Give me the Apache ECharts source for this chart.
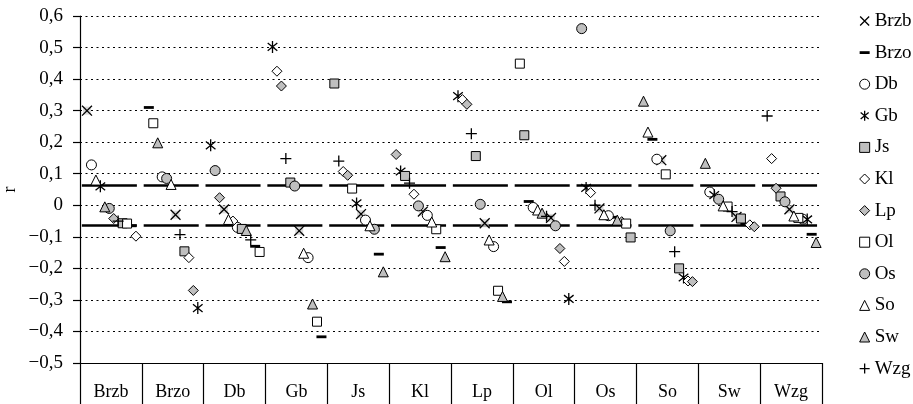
<!DOCTYPE html>
<html><head><meta charset="utf-8">
<script src="https://cdn.jsdelivr.net/npm/echarts@6/dist/echarts.min.js"></script>
<style>html,body{margin:0;padding:0;background:#fff}#c{width:913px;height:404px}</style>
</head><body><div id="c"></div>
<script>
// ---------- data ----------
const categories = ['Brzb','Brzo','Db','Gb','Js','Kl','Lp','Ol','Os','So','Sw','Wzg'];
const seriesNames = ['Brzb','Brzo','Db','Gb','Js','Kl','Lp','Ol','Os','So','Sw','Wzg'];
const yMin = -0.5, yMax = 0.6, yStep = 0.1;
const refLevels = [0.064, -0.064];
// values per series, in category order
const brzb = [0.30, -0.03, -0.013, -0.081, -0.028, -0.02, -0.057, -0.04, -0.01, 0.143, -0.037, -0.013];
const brzo = [-0.065, 0.31, -0.13, -0.417, -0.155, -0.134, -0.306, 0.012, -0.038, 0.209, -0.06, -0.092];
const db   = [0.128, 0.09, -0.07, -0.166, -0.047, -0.032, -0.131, -0.007, -0.033, 0.146, 0.042, -0.044];
const gb   = [0.06, -0.326, 0.19, 0.502, 0.006, 0.107, 0.346, -0.297, 0.055, -0.229, 0.032, -0.045];
const js   = [-0.057, -0.146, -0.075, 0.072, 0.386, 0.093, 0.156, 0.222, -0.102, -0.2, -0.042, 0.028];
const kl   = [-0.098, -0.166, -0.05, 0.425, 0.107, 0.035, 0.335, -0.178, 0.04, -0.24, -0.062, 0.148];
const lp   = [-0.042, -0.27, 0.024, 0.378, 0.095, 0.161, 0.32, -0.137, -0.052, -0.242, -0.068, 0.054];
const ol   = [-0.058, 0.26, -0.148, -0.369, 0.053, -0.076, -0.271, 0.449, -0.058, 0.098, -0.004, -0.04];
const os   = [-0.01, 0.085, 0.11, 0.061, -0.076, -0.002, 0.003, -0.065, 0.56, -0.081, 0.019, 0.011];
const so   = [0.08, 0.066, -0.045, -0.152, -0.065, -0.053, -0.11, -0.015, -0.03, 0.232, -0.002, -0.034];
const sw   = [-0.005, 0.198, -0.08, -0.313, -0.211, -0.163, -0.289, -0.025, -0.047, 0.33, 0.133, -0.118];
const wzg  = [-0.05, -0.093, -0.11, 0.148, 0.14, 0.07, 0.227, -0.035, 0.0, -0.147, -0.02, 0.283];
const seriesValues = [brzb, brzo, db, gb, js, kl, lp, ol, os, so, sw, wzg];

// ---------- styles ----------
const GRAY = '#bfbfbf';
const BOX = 'M0,0M10,10';
const styles = [
  {symbol:'path://'+BOX+'M0.5,0.5L9.5,9.5M9.5,0.5L0.5,9.5', size:11, color:'transparent', border:1.3},
  {symbol:'path://'+BOX+'M0,3.6H10V6.4H0Z', size:10, color:'#000', border:0},
  {symbol:'circle', size:10, color:'#fff', border:1},
  {symbol:'path://'+BOX+'M1,1.8L9,8.2M9,1.8L1,8.2M5,0L5,10', size:12, color:'transparent', border:1.3},
  {symbol:'rect', size:9, color:GRAY, border:1},
  {symbol:'diamond', size:10, color:'#fff', border:1},
  {symbol:'diamond', size:10, color:GRAY, border:1},
  {symbol:'rect', size:9, color:'#fff', border:1},
  {symbol:'circle', size:10, color:GRAY, border:1},
  {symbol:'triangle', size:10, color:'#fff', border:1},
  {symbol:'triangle', size:10, color:GRAY, border:1},
  {symbol:'path://'+BOX+'M5,0V10M0,5H10', size:11, color:'transparent', border:1.3}
];

// dodge: within each category, points spread left-to-right in descending order
const CAT_W = 61.83, START = 7, STEP = 4.45;
const ranks = seriesValues.map(() => []);
categories.forEach((c, ci) => {
  const idx = seriesValues.map((s, si) => si);
  idx.sort((a, b) => seriesValues[b][ci] - seriesValues[a][ci] || a - b);
  idx.forEach((si, r) => { ranks[si][ci] = r; });
});

const series = [];
seriesNames.forEach((name, si) => {
  const st = styles[si];
  series.push({
    name, type:'scatter', xAxisIndex:0, yAxisIndex:0, z:3,
    symbol: st.symbol, symbolSize: st.size,
    itemStyle:{color: st.color, borderColor:'#000', borderWidth: st.border, opacity:1},
    data: seriesValues[si].map((v, ci) => [ci + (START + ranks[si][ci]*STEP)/CAT_W, v])
  });
});
// gray background behind Brzb crosses
series.push({
  name:'Brzb', type:'scatter', xAxisIndex:0, yAxisIndex:0, z:2,
  symbol:'rect', symbolSize:8, itemStyle:{color:'#cfcfcf', borderWidth:0}, silent:true,
  data: brzb.map((v, ci) => [ci + (START + ranks[0][ci]*STEP)/CAT_W, v])
});
// reference lines per category
series.push({
  type:'lines', coordinateSystem:'cartesian2d', xAxisIndex:0, yAxisIndex:0, z:2, silent:true,
  lineStyle:{color:'#000', width:2.6, opacity:1},
  data: [].concat(...refLevels.map(lv => categories.map((c, ci) => ({coords:[[ci+0.03, lv],[ci+0.92, lv]]}))))
});

const fmt = v => {
  if (Math.abs(v) < 1e-9) return '0';
  return (v < 0 ? '\u2212' : '') + Math.abs(v).toFixed(1).replace('.', ',');
};

const chart = echarts.init(document.getElementById('c'), null, {renderer:'canvas'});
chart.setOption({
  backgroundColor:'#fff',
  animation:false,
  grid:{left:80, right:91, top:16, bottom:41, containLabel:false, outerBoundsMode:'none'},
  textStyle:{fontFamily:'Liberation Serif'},
  xAxis:[
    {type:'value', min:0, max:12, show:false},
    {type:'category', data:categories, position:'bottom',
     axisLine:{show:true, lineStyle:{color:'#000', width:1.2}},
     axisTick:{show:true, interval:0, length:41, lineStyle:{color:'#000', width:1.2}},
     axisLabel:{interval:0, margin:20, color:'#000', fontSize:18, fontFamily:'Liberation Serif'},
     splitLine:{show:false}}
  ],
  yAxis:{type:'value', min:yMin, max:yMax, interval:yStep,
    name:'r', nameLocation:'middle', nameGap:61, nameRotate:90, nameMoveOverlap:false,
    nameTextStyle:{color:'#000', fontSize:18, fontFamily:'Liberation Serif'},
    axisLine:{show:true, lineStyle:{color:'#000', width:1.2}},
    axisTick:{show:true, length:7, lineStyle:{color:'#000', width:1.2}},
    axisLabel:{color:'#000', fontSize:19, margin:17, fontFamily:'Liberation Serif', formatter:fmt},
    splitLine:{show:true, lineStyle:{color:'#000', type:[2,3.5], width:1.2}}
  },
  legend:{
    orient:'vertical', left:854, top:6, itemWidth:10, itemHeight:10, itemGap:11.6,
    textStyle:{color:'#000', fontSize:19, fontFamily:'Liberation Serif', lineHeight:20},
    data: seriesNames.map((n, si) => ({name:n, icon: styles[si].symbol,
      itemStyle:{color: styles[si].color, borderColor:'#000', borderWidth: styles[si].border}}))
  },
  series
});
</script></body></html>
